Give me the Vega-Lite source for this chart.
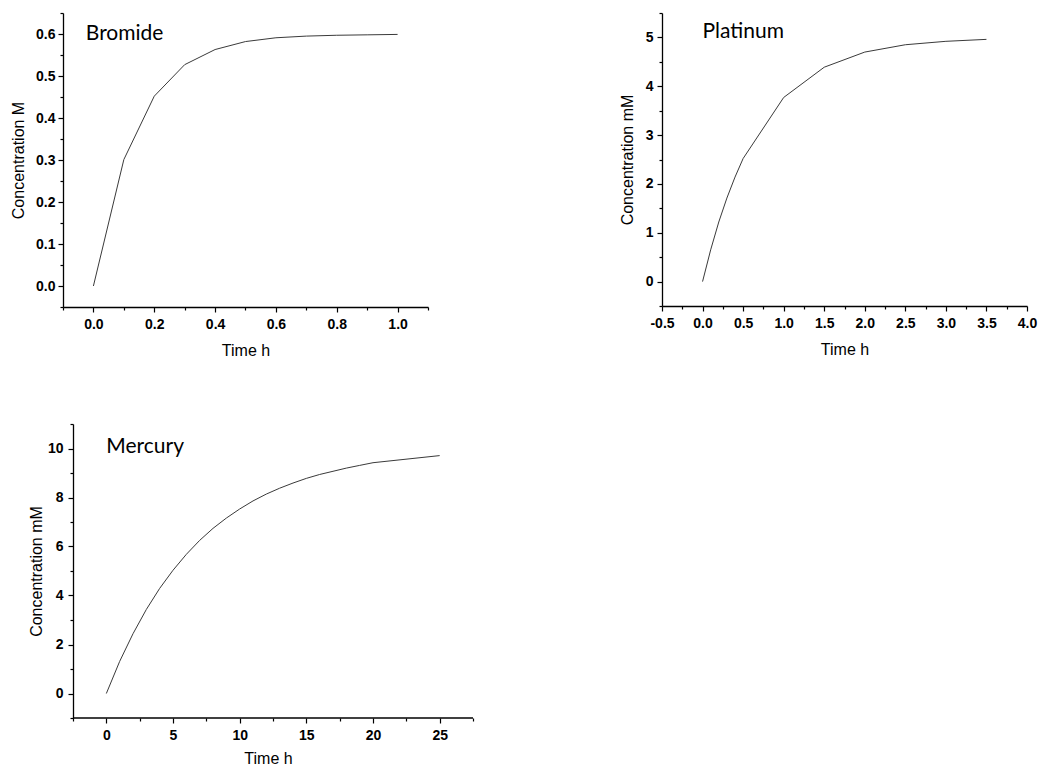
{
  "$schema": "https://vega.github.io/schema/vega-lite/v6.json",
  "background": "white",
  "padding": {"left": 10, "top": 6, "right": 5, "bottom": 5},
  "config": {
    "view": {"stroke": null},
    "axis": {
      "grid": false,
      "domainColor": "black",
      "domainWidth": 1.3,
      "tickColor": "black",
      "tickWidth": 1.2,
      "labelFont": "Liberation Sans",
      "labelFontWeight": "bold",
      "labelFontSize": 14,
      "labelColor": "black",
      "labelOverlap": false,
      "labelFlush": false,
      "labelBound": false,
      "titleFont": "Liberation Sans",
      "titleFontWeight": "normal",
      "titleFontSize": 16,
      "titleColor": "black"
    }
  },
  "columns": 2,
  "align": "none",
  "bounds": "flush",
  "spacing": {"row": 117, "column": 189},
  "resolve": {"scale": {"x": "independent", "y": "independent"}, "axis": {"x": "independent", "y": "independent"}},
  "concat": [
    {
      "width": 365,
      "height": 294,
      "data": {"values": [
        {"tb": 0.0, "cb": 0.0},
        {"tb": 0.1, "cb": 0.301},
        {"tb": 0.2, "cb": 0.452},
        {"tb": 0.3, "cb": 0.527},
        {"tb": 0.4, "cb": 0.563},
        {"tb": 0.5, "cb": 0.582},
        {"tb": 0.6, "cb": 0.591},
        {"tb": 0.7, "cb": 0.595},
        {"tb": 0.8, "cb": 0.597},
        {"tb": 0.9, "cb": 0.598},
        {"tb": 1.0, "cb": 0.599}
      ]},
      "layer": [
        {
          "mark": {"type": "line", "color": "#3a3a3a", "strokeWidth": 1},
          "encoding": {
            "x": {"field": "tb", "type": "quantitative",
              "scale": {"domain": [-0.1, 1.1], "nice": false, "zero": false},
              "axis": {"title": "Time h", "labelOverlap": false, "tickCount": 100,
                "values": [-0.1, 0, 0.1, 0.2, 0.3, 0.4, 0.5, 0.6, 0.7, 0.8, 0.9, 1.0, 1.1],
                "labelExpr": "abs(round(datum.value*10)) % 2 == 0 ? format(datum.value, '.1f') : ''",
                "tickSize": {"condition": {"test": "abs(round(datum.value*10)) % 2 == 0", "value": 5}, "value": 3},
                "labelPadding": 5, "titlePadding": 11}},
            "y": {"field": "cb", "type": "quantitative",
              "scale": {"domain": [-0.05, 0.65], "nice": false, "zero": false},
              "axis": {"title": "Concentration M", "labelOverlap": false, "tickCount": 100,
                "values": [-0.05, 0, 0.05, 0.1, 0.15, 0.2, 0.25, 0.3, 0.35, 0.4, 0.45, 0.5, 0.55, 0.6, 0.65],
                "labelExpr": "abs(round(datum.value*20)) % 2 == 0 ? format(datum.value, '.1f') : ''",
                "tickSize": {"condition": {"test": "abs(round(datum.value*20)) % 2 == 0", "value": 5}, "value": 3},
                "labelPadding": 3, "titlePadding": 9}}
          }
        },
        {
          "data": {"values": [{"tb": -0.025, "cb": 0.6, "name": "Bromide"}]},
          "mark": {"type": "text", "align": "left", "baseline": "middle", "font": "Lato", "fontSize": 21, "color": "black"},
          "encoding": {
            "x": {"field": "tb", "type": "quantitative"},
            "y": {"field": "cb", "type": "quantitative"},
            "text": {"field": "name"}
          }
        }
      ]
    },
    {
      "width": 365,
      "height": 293,
      "data": {"values": [
        {"tp": 0.0, "cp": 0.0},
        {"tp": 0.1, "cp": 0.65},
        {"tp": 0.2, "cp": 1.22},
        {"tp": 0.3, "cp": 1.71},
        {"tp": 0.4, "cp": 2.14},
        {"tp": 0.5, "cp": 2.52},
        {"tp": 1.0, "cp": 3.77},
        {"tp": 1.5, "cp": 4.39},
        {"tp": 2.0, "cp": 4.70},
        {"tp": 2.5, "cp": 4.85},
        {"tp": 3.0, "cp": 4.92},
        {"tp": 3.5, "cp": 4.96}
      ]},
      "layer": [
        {
          "mark": {"type": "line", "color": "#3a3a3a", "strokeWidth": 1},
          "encoding": {
            "x": {"field": "tp", "type": "quantitative",
              "scale": {"domain": [-0.5, 4.0], "nice": false, "zero": false},
              "axis": {"title": "Time h", "labelOverlap": false, "tickCount": 100,
                "values": [-0.5, -0.25, 0, 0.25, 0.5, 0.75, 1.0, 1.25, 1.5, 1.75, 2.0, 2.25, 2.5, 2.75, 3.0, 3.25, 3.5, 3.75, 4.0],
                "labelExpr": "abs(round(datum.value*4)) % 2 == 0 ? replace(format(datum.value, '.1f'), '−', '-') : ''",
                "tickSize": {"condition": {"test": "abs(round(datum.value*4)) % 2 == 0", "value": 5}, "value": 3},
                "labelPadding": 5, "titlePadding": 11}},
            "y": {"field": "cp", "type": "quantitative",
              "scale": {"domain": [-0.5, 5.5], "nice": false, "zero": false},
              "axis": {"title": "Concentration mM", "labelOverlap": false, "tickCount": 100,
                "values": [-0.5, 0, 0.5, 1, 1.5, 2, 2.5, 3, 3.5, 4, 4.5, 5, 5.5],
                "labelExpr": "abs(round(datum.value*2)) % 2 == 0 ? format(datum.value, 'd') : ''",
                "tickSize": {"condition": {"test": "abs(round(datum.value*2)) % 2 == 0", "value": 5}, "value": 3},
                "labelPadding": 4, "titlePadding": 10}}
          }
        },
        {
          "data": {"values": [{"tp": 0.0, "cp": 5.12, "name": "Platinum"}]},
          "mark": {"type": "text", "align": "left", "baseline": "middle", "font": "Lato", "fontSize": 21, "color": "black"},
          "encoding": {
            "x": {"field": "tp", "type": "quantitative"},
            "y": {"field": "cp", "type": "quantitative"},
            "text": {"field": "name"}
          }
        }
      ]
    },
    {
      "width": 410,
      "height": 294,
      "data": {"values": [
        {"tm": 0, "cm": 0.0},
        {"tm": 1, "cm": 1.31},
        {"tm": 2, "cm": 2.44},
        {"tm": 3, "cm": 3.43},
        {"tm": 4, "cm": 4.29},
        {"tm": 5, "cm": 5.03},
        {"tm": 6, "cm": 5.68},
        {"tm": 7, "cm": 6.25},
        {"tm": 8, "cm": 6.74},
        {"tm": 9, "cm": 7.16},
        {"tm": 10, "cm": 7.53},
        {"tm": 11, "cm": 7.86},
        {"tm": 12, "cm": 8.14},
        {"tm": 13, "cm": 8.38},
        {"tm": 14, "cm": 8.59},
        {"tm": 15, "cm": 8.78},
        {"tm": 16, "cm": 8.94},
        {"tm": 17, "cm": 9.07},
        {"tm": 18, "cm": 9.20},
        {"tm": 19, "cm": 9.31},
        {"tm": 20, "cm": 9.42},
        {"tm": 25, "cm": 9.71}
      ]},
      "layer": [
        {
          "mark": {"type": "line", "color": "#3a3a3a", "strokeWidth": 1},
          "encoding": {
            "x": {"field": "tm", "type": "quantitative",
              "scale": {"domain": [-3.25, 27.5], "nice": false, "zero": false},
              "axis": {"title": "Time h", "domain": false, "labelOverlap": false, "tickCount": 100,
                "values": [-2.5, 0, 2.5, 5, 7.5, 10, 12.5, 15, 17.5, 20, 22.5, 25, 27.5],
                "labelExpr": "abs(round(datum.value/2.5)) % 2 == 0 ? format(datum.value, 'd') : ''",
                "tickSize": {"condition": {"test": "abs(round(datum.value/2.5)) % 2 == 0", "value": 5}, "value": 3},
                "labelPadding": 5, "titlePadding": 8}},
            "y": {"field": "cm", "type": "quantitative",
              "scale": {"domain": [-1, 11], "nice": false, "zero": false},
              "axis": {"title": "Concentration mM", "offset": -10, "labelOverlap": false, "tickCount": 100,
                "values": [-1, 0, 1, 2, 3, 4, 5, 6, 7, 8, 9, 10, 11],
                "labelExpr": "abs(round(datum.value)) % 2 == 0 ? format(datum.value, 'd') : ''",
                "tickSize": {"condition": {"test": "abs(round(datum.value)) % 2 == 0", "value": 5}, "value": 3},
                "labelPadding": 5, "titlePadding": 3}}
          }
        },
        {
          "data": {"values": [{"xa": -2.5, "xb": 27.5, "ya": -1}]},
          "mark": {"type": "rule", "color": "black", "strokeWidth": 1.3},
          "encoding": {
            "x": {"field": "xa", "type": "quantitative"},
            "x2": {"field": "xb"},
            "y": {"field": "ya", "type": "quantitative"}
          }
        },
        {
          "data": {"values": [{"tm": 0.0, "cm": 10.05, "name": "Mercury"}]},
          "mark": {"type": "text", "align": "left", "baseline": "middle", "font": "Lato", "fontSize": 21, "color": "black"},
          "encoding": {
            "x": {"field": "tm", "type": "quantitative"},
            "y": {"field": "cm", "type": "quantitative"},
            "text": {"field": "name"}
          }
        }
      ]
    }
  ]
}
